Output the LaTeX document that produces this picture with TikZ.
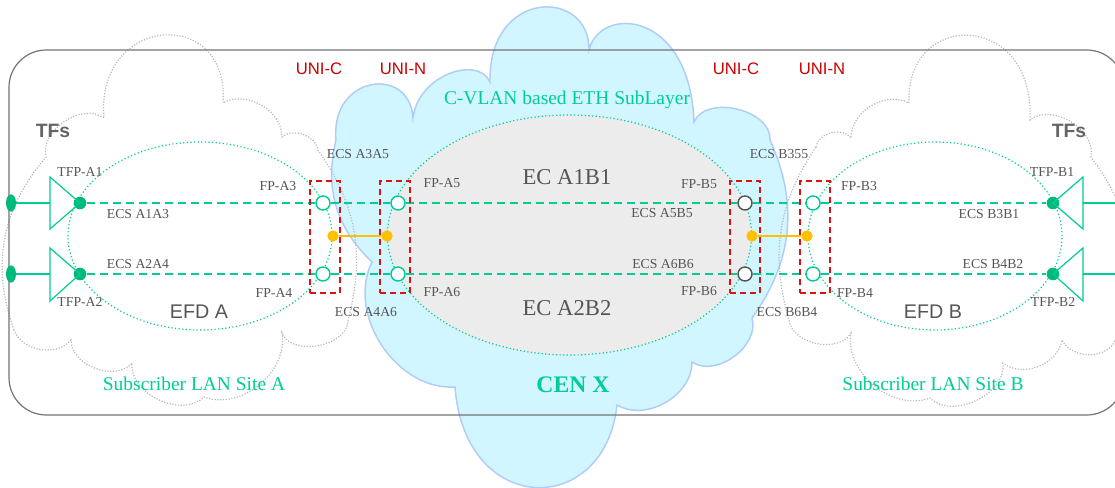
\documentclass[tikz,border=0pt]{standalone}
\usepackage{fontspec}
\setmainfont{Liberation Serif}
\newfontfamily\arialf{Liberation Sans}
\usetikzlibrary{shapes.geometric}
\definecolor{teal1}{RGB}{0,204,150}
\definecolor{tealdk}{RGB}{0,185,125}
\definecolor{redd}{RGB}{215,20,20}
\definecolor{unired}{RGB}{204,0,0}
\definecolor{orng}{RGB}{255,192,0}
\definecolor{txtgray}{RGB}{85,85,85}
\definecolor{tfsgray}{RGB}{100,100,100}
\definecolor{cloudgray}{RGB}{185,185,185}
\definecolor{cyanfill}{RGB}{210,246,255}
\definecolor{cyanline}{RGB}{175,205,250}
\definecolor{ecfill}{RGB}{236,236,236}
\definecolor{framegray}{RGB}{115,115,115}
\begin{document}
\begin{tikzpicture}[x=0.75pt,y=0.75pt,
  lbl/.style={font=\fontsize{10.3}{12}\selectfont, text=txtgray, inner sep=0pt},
  unilbl/.style={font=\arialf\fontsize{12.5}{14}\selectfont, text=unired, inner sep=0pt},
  tfslbl/.style={font=\arialf\bfseries\fontsize{14.5}{16}\selectfont, text=tfsgray, inner sep=0pt},
  efdlbl/.style={font=\arialf\fontsize{14.8}{17}\selectfont, text=txtgray, inner sep=0pt},
  eclbl/.style={font=\fontsize{17}{20}\selectfont, text=txtgray, inner sep=0pt},
  greenlbl/.style={font=\fontsize{14.6}{17}\selectfont, text=teal1, inner sep=0pt},
  cenlbl/.style={font=\bfseries\fontsize{17.8}{20}\selectfont, text=teal1, inner sep=0pt},
  fpc/.style={circle, draw=teal1, fill=white, line width=1.1pt, minimum size=10.5pt, inner sep=0pt},
  fpg/.style={fpc, draw=txtgray},
  tdot/.style={circle, fill=tealdk, minimum size=9.5pt, inner sep=0pt},
  enddot/.style={ellipse, fill=tealdk, minimum width=7.5pt, minimum height=13pt, inner sep=0pt},
  odot/.style={circle, fill=orng, minimum size=8.5pt, inner sep=0pt},
  unirect/.style={rectangle, draw=redd, line width=1.1pt, dash pattern=on 4.5pt off 3pt, minimum width=22.5pt, minimum height=84pt, inner sep=0pt},
  ecsline/.style={draw=teal1, line width=1.1pt, dash pattern=on 6pt off 3.75pt},
  termline/.style={draw=teal1, line width=1.1pt},
  tri/.style={draw=teal1, line width=0.9pt},
  orline/.style={draw=orng, line width=1.4pt},
  efd/.style={draw=teal1, line width=0.9pt, dash pattern=on 0.9pt off 1.8pt},
  graycloud/.style={draw=cloudgray, line width=0.9pt, dash pattern=on 0.9pt off 1.2pt},
  bluecloud/.style={draw=cyanline, fill=cyanfill, line width=1.1pt}
]
\useasboundingbox (0,-488) rectangle (1115,0);
\clip (0,-488) rectangle (1115,0);

% CEN X cloud
\path[bluecloud] (617,-405) .. controls (605,-518) and (465,-518) .. (455,-387)
  to[bend left=60] (372,-262)
  to[bend left=30] (336,-140)
  .. controls (330,-75) and (410,-65) .. (413,-118)
  .. controls (418,-75) and (478,-55) .. (490,-82)
  .. controls (488,12) and (590,12) .. (589,-50)
  .. controls (600,-5) and (690,-10) .. (694,-122)
  to[bend left=80] (770,-140)
  to[bend left=30] (752,-318)
  to[bend left=70] (692,-362)
  to[bend left=60] (617,-405) -- cycle;

% subscriber LAN clouds
\draw[graycloud] (14,-330) to[bend left=30] (46,-157)
  to[bend left=70] (104,-118)
  .. controls (95,-15) and (230,-5) .. (223,-103)
  to[bend left=60] (282,-137)
  to[bend left=60] (318,-150)
  to[bend left=25] (348,-320)
  to[bend left=80] (282,-333)
  to[bend left=60] (204,-397)
  to[bend left=70] (132,-363)
  to[bend left=70] (71,-340)
  to[bend left=60] (14,-330);
\draw[graycloud] (816,-147) to[bend left=70] (851,-138)
  to[bend left=60] (909,-103)
  .. controls (905,-10) and (1035,-10) .. (1030,-120)
  to[bend left=70] (1091,-157)
  to[bend left=30] (1114,-343)
  to[bend left=60] (1062,-340)
  to[bend left=60] (1003,-363)
  to[bend left=70] (930,-398)
  to[bend left=60] (851,-333)
  to[bend left=70] (789,-320)
  to[bend left=25] (816,-147);

% frame
\draw[framegray, line width=0.9pt, rounded corners=28pt] (9,-50) rectangle (1124,-415);

% domains
\draw[efd, fill=ecfill] (569.5,-235) ellipse [x radius=182, y radius=120];
\draw[efd] (200,-236) ellipse [x radius=132, y radius=94];
\draw[efd] (935,-236) ellipse [x radius=127, y radius=94];

% terminal flow points
\node[enddot] (ea1) at (11,-203) {};
\node[enddot] (ea2) at (11,-274) {};
\coordinate (ta1) at (50,-203);
\coordinate (ta2) at (50,-274);
\node[tdot] (da1) at (80,-203) {};
\node[tdot] (da2) at (80,-274) {};
\draw[termline] (ea1) -- (ta1);
\draw[termline] (ea2) -- (ta2);
\draw[tri] (50,-177) -- (da1.center) -- (50,-229) -- cycle;
\draw[tri] (50,-248) -- (da2.center) -- (50,-301) -- cycle;

\node[tdot] (db1) at (1053,-203) {};
\node[tdot] (db2) at (1053,-274) {};
\coordinate (tb1) at (1083,-203);
\coordinate (tb2) at (1083,-274);
\coordinate (eb1) at (1120,-203);
\coordinate (eb2) at (1120,-274);
\draw[termline] (tb1) -- (eb1);
\draw[termline] (tb2) -- (eb2);
\draw[tri] (1083,-177) -- (db1.center) -- (1083,-229) -- cycle;
\draw[tri] (1083,-248) -- (db2.center) -- (1083,-301) -- cycle;

% flow points
\node[fpc] (ca3) at (323,-203) {};
\node[fpc] (ca4) at (323,-274) {};
\node[fpc] (ca5) at (398,-203) {};
\node[fpc] (ca6) at (398,-274) {};
\node[fpg] (cb5) at (745,-203) {};
\node[fpg] (cb6) at (745,-274) {};
\node[fpc] (cb3) at (813,-203) {};
\node[fpc] (cb4) at (813,-274) {};

% ECS connections
\draw[ecsline] (da1) -- (ca3);
\draw[ecsline] (ca3) -- (ca5);
\draw[ecsline] (ca5) -- (cb5);
\draw[ecsline] (cb5) -- (cb3);
\draw[ecsline] (cb3) -- (db1);
\draw[ecsline] (da2) -- (ca4);
\draw[ecsline] (ca4) -- (ca6);
\draw[ecsline] (ca6) -- (cb6);
\draw[ecsline] (cb6) -- (cb4);
\draw[ecsline] (cb4) -- (db2);

% UNI boxes
\node[unirect] (ru1) at (325,-237) {};
\node[unirect] (ru2) at (395,-237) {};
\node[unirect] (ru3) at (745,-237) {};
\node[unirect] (ru4) at (815,-237) {};

% UNI links
\node[odot] (oa1) at (333,-236) {};
\node[odot] (oa2) at (387,-236) {};
\node[odot] (ob1) at (752,-236) {};
\node[odot] (ob2) at (807,-236) {};
\draw[orline] (oa1) -- (oa2);
\draw[orline] (ob1) -- (ob2);

% labels
\node[tfslbl] (tfsa) at (53,-131) {TFs};
\node[tfslbl] (tfsb) at (1069,-131) {TFs};
\node[lbl] (ltfpa1) at (80,-172) {TFP-A1};
\node[lbl] (ltfpa2) at (80,-302) {TFP-A2};
\node[lbl] (lecsa13) at (138,-214) {ECS A1A3};
\node[lbl] (lecsa24) at (138,-264) {ECS A2A4};
\node[lbl] (lfpa3) at (278,-186) {FP-A3};
\node[lbl] (lfpa4) at (274,-293) {FP-A4};
\node[efdlbl] (lefda) at (199,-312) {EFD A};
\node[lbl] (lecsa35) at (358,-154) {ECS A3A5};
\node[lbl] (lecsa46) at (366,-312) {ECS A4A6};
\node[lbl] (lfpa5) at (442,-183) {FP-A5};
\node[lbl] (lfpa6) at (442,-292) {FP-A6};
\node[eclbl] (leca1b1) at (567,-177) {EC A1B1};
\node[eclbl] (leca2b2) at (567,-308) {EC A2B2};
\node[lbl] (lfpb5) at (699,-184) {FP-B5};
\node[lbl] (lfpb6) at (699,-291) {FP-B6};
\node[lbl] (lecsa5b5) at (662,-213) {ECS A5B5};
\node[lbl] (lecsa6b6) at (663,-264) {ECS A6B6};
\node[lbl] (lecsb355) at (779,-154) {ECS B355};
\node[lbl] (lecsb6b4) at (787,-312) {ECS B6B4};
\node[lbl] (lfpb3) at (859,-186) {FP-B3};
\node[lbl] (lfpb4) at (855,-293) {FP-B4};
\node[lbl] (lecsb31) at (989,-214) {ECS B3B1};
\node[lbl] (lecsb42) at (993,-264) {ECS B4B2};
\node[lbl] (ltfpb1) at (1052,-172) {TFP-B1};
\node[lbl] (ltfpb2) at (1053,-302) {TFP-B2};
\node[efdlbl] (lefdb) at (933,-312) {EFD B};
\node[unilbl] (luc1) at (319,-69) {UNI-C};
\node[unilbl] (lun1) at (403,-69) {UNI-N};
\node[unilbl] (luc2) at (736,-69) {UNI-C};
\node[unilbl] (lun2) at (822,-69) {UNI-N};
\node[greenlbl] (lcvlan) at (567,-100) {C-VLAN based ETH SubLayer};
\node[greenlbl] (lsita) at (194,-384) {Subscriber LAN Site A};
\node[greenlbl] (lsitb) at (933,-384) {Subscriber LAN Site B};
\node[cenlbl] (lcen) at (573,-385) {CEN X};
\end{tikzpicture}
\end{document}
